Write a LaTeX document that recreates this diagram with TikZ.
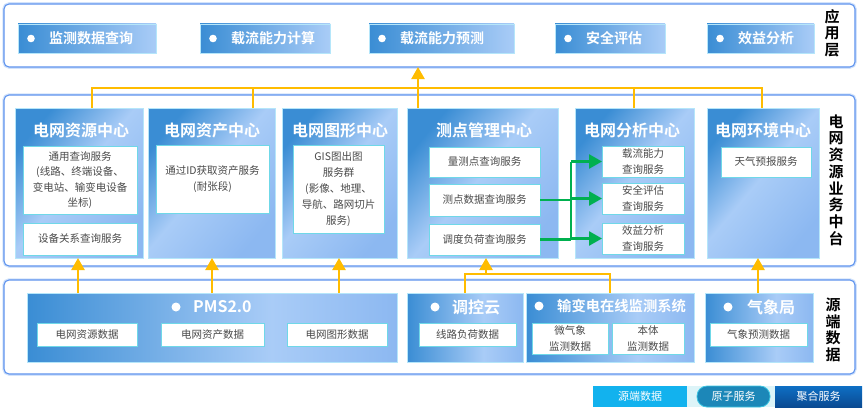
\documentclass[tikz,border=0pt]{standalone}
\usepackage{fontspec}
\setmainfont{Noto Sans CJK SC}[BoldFont={Noto Sans CJK SC Bold}]
\usetikzlibrary{arrows.meta}
\definecolor{bDark}{HTML}{3A8DD4}
\definecolor{bLight}{HTML}{A9CCF7}
\definecolor{bMid}{HTML}{8CB8F1}
\definecolor{layerB}{HTML}{5E93EE}
\definecolor{layerGlow}{HTML}{D3E3FB}
\definecolor{ctrB}{HTML}{B5E6FA}
\definecolor{cyanB}{HTML}{6FD8E8}
\definecolor{txtgray}{HTML}{4A4A4A}
\definecolor{ylw}{HTML}{FFBC00}
\definecolor{grn}{HTML}{00B050}
\definecolor{legA}{HTML}{12B2EE}
\definecolor{legBg}{HTML}{DDF4F8}
\definecolor{legPill}{HTML}{1C87B8}
\definecolor{legPillB}{HTML}{3CC6E2}
\definecolor{legDarkA}{HTML}{0E6FC4}
\definecolor{legDarkB}{HTML}{0A4A92}
\pgfdeclarehorizontalshading{appshade}{100bp}{color(0bp)=(bDark); color(25bp)=(bDark); color(75bp)=(bLight); color(100bp)=(bLight)}
\pgfdeclarehorizontalshading{ctrshade}{100bp}{color(0bp)=(bDark); color(25bp)=(bDark); color(48bp)=(bLight); color(75bp)=(bMid); color(100bp)=(bMid)}
\pgfdeclarehorizontalshading{srcshade}{100bp}{color(0bp)=(bDark); color(25bp)=(bDark); color(58bp)=(bLight); color(75bp)=(bMid); color(100bp)=(bMid)}
\tikzset{
  box/.style={anchor=north west, inner sep=0pt, outer sep=0pt},
  layer/.style={box, draw=layerB, line width=1.1pt, fill=white, rounded corners=5pt,
    preaction={draw=layerGlow, line width=3.5pt}},
  appbox/.style={box, shading=appshade, draw=ctrB, line width=0.9pt},
  apptxt/.style={anchor=west, inner sep=0pt, text=white, font=\fontsize{14}{16}\selectfont\bfseries},
  ctr/.style={box, shading=ctrshade, shading angle=-40, draw=ctrB, line width=0.9pt},
  ctitle/.style={inner sep=0pt, text=white, font=\fontsize{16}{18}\selectfont\bfseries},
  srcbox/.style={box, shading=srcshade, draw=ctrB, line width=0.9pt},
  stitle/.style={anchor=west, inner sep=0pt, text=white, font=\fontsize{16}{18}\selectfont\bfseries},
  innerbox/.style={box, fill=white, draw=cyanB, line width=0.8pt, text=txtgray, align=center,
    font=\fontsize{10.5}{15.5}\selectfont},
  vlabel/.style={inner sep=0pt, align=center, text=black, font=\fontsize{15}{16.7}\selectfont\bfseries},
  legend/.style={box, text=white, font=\fontsize{11}{13}\selectfont, minimum height=21pt},
  yl/.style={draw=ylw, line width=2.3pt},
  yla/.style={yl, -{Triangle[length=12pt,width=13pt]}},
  grl/.style={draw=grn, line width=2.6pt},
  gra/.style={grl, -{Triangle[length=13pt,width=14pt]}},
}
\begin{document}
\begin{tikzpicture}[x=1pt,y=-1pt]
\useasboundingbox (0,0) rectangle (864,412);
% layers
\node[layer, minimum width=851pt, minimum height=63pt] (Lapp) at (4,4) {};
\node[layer, minimum width=851pt, minimum height=171pt] (Lmid) at (4,95) {};
\node[layer, minimum width=851pt, minimum height=94pt] (Lsrc) at (4,280) {};
% application items
\node[appbox, minimum width=138pt, minimum height=29pt] (a1) at (18,24) {};
\node[appbox, minimum width=130pt, minimum height=29pt] (a2) at (200,24) {};
\node[appbox, minimum width=145pt, minimum height=29pt] (a3) at (369,24) {};
\node[appbox, minimum width=110pt, minimum height=29pt] (a4) at (555,24) {};
\node[appbox, minimum width=107pt, minimum height=29pt] (a5) at (707,24) {};
\foreach \n/\t in {a1/监测数据查询, a2/载流能力计算, a3/载流能力预测, a4/安全评估, a5/效益分析}{
  \fill[white] ([xshift=13pt]\n.west) circle (3.8pt);
  \node[apptxt] (\n t) at ([xshift=31pt]\n.west) {\t};
}
\node[vlabel] (vl1) at (832,33) {应\\用\\层};
% centers
\node[ctr, minimum width=128pt, minimum height=150pt] (c1) at (15,108) {};
\node[ctr, minimum width=127pt, minimum height=150pt] (c2) at (148,108) {};
\node[ctr, minimum width=115pt, minimum height=150pt] (c3) at (282,108) {};
\node[ctr, minimum width=151pt, minimum height=150pt] (c4) at (407,108) {};
\node[ctr, minimum width=119pt, minimum height=150pt] (c5) at (575,108) {};
\node[ctr, minimum width=112pt, minimum height=150pt] (c6) at (707,108) {};
\node[ctitle] (c1t) at (81,130) {电网资源中心};
\node[ctitle] (c2t) at (212,130) {电网资产中心};
\node[ctitle] (c3t) at (340,130) {电网图形中心};
\node[ctitle] (c4t) at (484,130) {测点管理中心};
\node[ctitle] (c5t) at (632,130) {电网分析中心};
\node[ctitle] (c6t) at (763,130) {电网环境中心};
\node[innerbox, minimum width=114pt, minimum height=68pt] (c1a) at (23,146) {通用查询服务\\(线路、终端设备、\\变电站、输变电设备\\坐标)};
\node[innerbox, minimum width=114pt, minimum height=32pt] (c1b) at (23,223) {设备关系查询服务};
\node[innerbox, minimum width=113pt, minimum height=68pt] (c2a) at (156,145) {通过ID获取资产服务\\(耐张段)};
\node[innerbox, minimum width=91pt, minimum height=88pt, font=\fontsize{10.5}{16}\selectfont] (c3a) at (293,145) {GIS图出图\\服务群\\(影像、地理、\\导航、路网切片\\服务)};
\node[innerbox, minimum width=111pt, minimum height=30pt] (c4a) at (429,147) {量测点查询服务};
\node[innerbox, minimum width=111pt, minimum height=32pt] (c4b) at (429,184) {测点数据查询服务};
\node[innerbox, minimum width=111pt, minimum height=31pt] (c4c) at (429,224) {调度负荷查询服务};
\node[innerbox, minimum width=82pt, minimum height=31pt, font=\fontsize{10.5}{16}\selectfont] (c5a) at (602,146) {载流能力\\查询服务};
\node[innerbox, minimum width=82pt, minimum height=31pt, font=\fontsize{10.5}{16}\selectfont] (c5b) at (602,183) {安全评估\\查询服务};
\node[innerbox, minimum width=82pt, minimum height=31pt, font=\fontsize{10.5}{16}\selectfont] (c5c) at (602,223) {效益分析\\查询服务};
\node[innerbox, minimum width=90pt, minimum height=30pt] (c6a) at (721,147) {天气预报服务};
\node[vlabel] (vl2) at (836,180) {电\\网\\资\\源\\业\\务\\中\\台};
% sources
\node[srcbox, minimum width=370pt, minimum height=69pt] (s1) at (27,293) {};
\node[srcbox, minimum width=116pt, minimum height=69pt] (s2) at (407,293) {};
\node[srcbox, minimum width=168pt, minimum height=69pt] (s3) at (526,293) {};
\node[srcbox, minimum width=108pt, minimum height=69pt] (s4) at (705,293) {};
\fill[white] (176,307) circle (4.5pt);
\node[stitle] (s1t) at (193,307) {PMS2.0};
\fill[white] (435,307) circle (4.5pt);
\node[stitle] (s2t) at (452,307) {调控云};
\fill[white] (539,306) circle (4.5pt);
\node[stitle, font=\fontsize{14.3}{16}\selectfont\bfseries] (s3t) at (557,306) {输变电在线监测系统};
\fill[white] (728,307) circle (4.5pt);
\node[stitle] (s4t) at (747,307) {气象局};
\node[innerbox, minimum width=100pt, minimum height=23pt] (s1a) at (37,323) {电网资源数据};
\node[innerbox, minimum width=103pt, minimum height=23pt] (s1b) at (161,323) {电网资产数据};
\node[innerbox, minimum width=100pt, minimum height=23pt] (s1c) at (287,323) {电网图形数据};
\node[innerbox, minimum width=97pt, minimum height=23pt] (s2a) at (419,323) {线路负荷数据};
\node[innerbox, minimum width=76pt, minimum height=31pt, font=\fontsize{10.5}{16}\selectfont] (s3a) at (532,323) {微气象\\监测数据};
\node[innerbox, minimum width=72pt, minimum height=31pt, font=\fontsize{10.5}{16}\selectfont] (s3b) at (612,323) {本体\\监测数据};
\node[innerbox, minimum width=97pt, minimum height=23pt] (s4a) at (710,323) {气象预测数据};
\node[vlabel] (vl3) at (833,330) {源\\端\\数\\据};
% legend
\node[legend, fill=legA, minimum width=94pt] (lg1) at (593,386) {源端数据};
\node[box, fill=legBg, minimum width=88pt, minimum height=21pt] (lgbg) at (687,386) {};
\node[legend, fill=legPill, draw=legPillB, line width=0.8pt, rounded corners=10pt, minimum width=73pt] (lg2) at (697,386) {原子服务};
\node[legend, top color=legDarkA, bottom color=legDarkB, minimum width=87pt] (lg3) at (775,386) {聚合服务};
% yellow connectors, top
\coordinate (h1) at (92,88);
\coordinate (h2) at (253,88);
\coordinate (h3) at (418,88);
\coordinate (h4) at (634,88);
\coordinate (h5) at (762,88);
\draw[yl, line join=miter] (c1.north -| h1) -- (h1) -- (h5) -- (c6.north -| h5);
\draw[yl] (c2.north -| h2) -- (h2);
\draw[yl] (c5.north -| h4) -- (h4);
\draw[yla] (c4.north -| h3) -- (Lapp.south -| h3);
% yellow connectors, bottom
\coordinate (p1) at (78,0);
\coordinate (p2) at (212,0);
\coordinate (p3) at (339,0);
\coordinate (m1) at (758,0);
\draw[yla] (s1.north -| p1) -- (c1.south -| p1);
\draw[yla] (s1.north -| p2) -- (c2.south -| p2);
\draw[yla] (s1.north -| p3) -- (c3.south -| p3);
\draw[yla] (s4.north -| m1) -- (c6.south -| m1);
\coordinate (k1) at (465,274);
\coordinate (k2) at (610,274);
\coordinate (k3) at (486,274);
\draw[yl, line join=miter] (s2.north -| k1) -- (k1) -- (k2) -- (s3.north -| k2);
\draw[yla] (k3) -- (c4.south -| k3);
% green connectors
\coordinate (g) at (571,0);
\draw[grl] (c4b.east) -- (c4b.east -| g);
\draw[grl] (c4c.east) -- (c4c.east -| g);
\draw[grl] (c5a.west -| g) -- (c4c.east -| g);
\draw[gra] (c5a.west -| g) -- (c5a.west);
\draw[gra] (c5b.west -| g) -- (c5b.west);
\draw[gra] (c5c.west -| g) -- (c5c.west);
\end{tikzpicture}
\end{document}
